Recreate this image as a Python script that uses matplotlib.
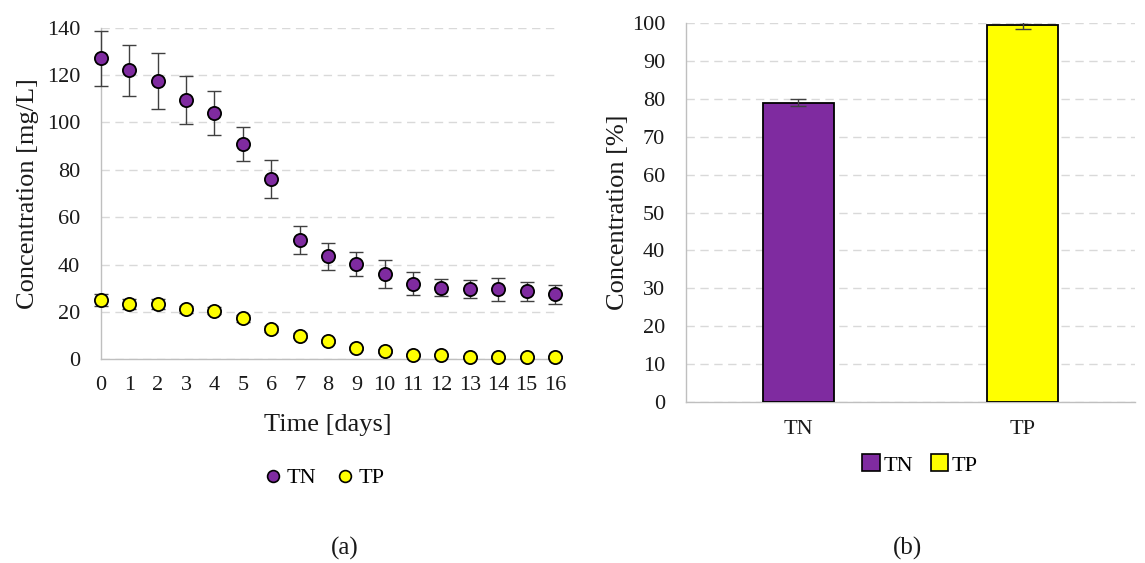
import numpy as np
import matplotlib
matplotlib.use("Agg")
import matplotlib.pyplot as plt
from matplotlib.lines import Line2D
from matplotlib.patches import Patch

plt.rcParams['font.family'] = ['Liberation Serif', 'DejaVu Serif']

# Time series (a)
days = list(range(17))
tn_mean = [127, 122, 117.5, 109.5, 104, 91, 76, 50.4, 43.6, 40.2, 36, 32, 30.2, 29.5, 29.5, 28.8, 27.4]
tn_err = [11.7, 10.9, 11.8, 10.2, 9.3, 7.1, 8.0, 6.0, 5.7, 5.0, 6.0, 5.0, 3.6, 3.8, 4.7, 4.0, 4.0]
tp_mean = [25, 23.3, 23.3, 21.2, 20.5, 17.3, 12.7, 10, 7.7, 4.6, 3.6, 1.8, 1.8, 1.1, 1.1, 1.1, 1.1]
tp_err = [2.5, 2.0, 2.0, 1.5, 1.5, 1.5, 1.2, 1.0, 1.0, 0.8, 0.8, 0.5, 0.5, 0.4, 0.4, 0.4, 0.4]

# Removal efficiency (b)
species = ['TN', 'TP']
removal = [78.9, 99.3]
removal_err = [0.9, 0.9]

purple = '#7F2BA0'
yellow = '#FFFF00'
grid_c = '#D9D9D9'
axis_c = '#BFBFBF'
err_c = '#404040'
txt_c = '#1A1A1A'

fig = plt.figure(figsize=(11.45, 5.63), dpi=100)

# ---- panel (a) ----
ax1 = fig.add_axes([0.0882, 0.3618, 0.3965, 0.589])
for mean, err, col, lab in [(tn_mean, tn_err, purple, 'TN'), (tp_mean, tp_err, yellow, 'TP')]:
    ax1.errorbar(days, mean, yerr=err, fmt='none', ecolor=err_c, elinewidth=1.0,
                 capsize=5, capthick=1.0, zorder=3, clip_on=False)
    ax1.plot(days, mean, 'o', color=col, markeredgecolor='black', markeredgewidth=1.3,
             markersize=9.5, zorder=4, clip_on=False, label=lab)

ax1.set_xlim(0, 16)
ax1.set_ylim(0, 140)
ax1.set_xticks(days)
ax1.set_yticks(range(0, 141, 20))
ax1.yaxis.grid(True, color=grid_c, linestyle=(0, (6, 4)), linewidth=1.0)
ax1.set_axisbelow(True)
ax1.tick_params(length=0, labelsize=16, colors=txt_c)
ax1.tick_params(axis='y', pad=15)
ax1.tick_params(axis='x', pad=12)
for s in ['top', 'right']:
    ax1.spines[s].set_visible(False)
for s in ['left', 'bottom']:
    ax1.spines[s].set_color(axis_c)
    ax1.spines[s].set_linewidth(1.0)
ax1.set_ylabel('Concentration [mg/L]', fontsize=19, color=txt_c)
ax1.yaxis.set_label_coords(-0.161, 0.5)
ax1.yaxis.label.set_va('center')
ax1.set_xlabel('Time [days]', fontsize=19, color=txt_c)
ax1.xaxis.set_label_coords(0.5, -0.198)
ax1.xaxis.label.set_va('center')

h1 = [Line2D([], [], marker='o', linestyle='none', markerfacecolor=c, markeredgecolor='black',
             markeredgewidth=1.2, markersize=8.5) for c in (purple, yellow)]
ax1.legend(h1, ['TN', 'TP'], loc='center', bbox_to_anchor=(0.489, -0.358), ncol=2, frameon=False,
           fontsize=16, handletextpad=0.1, columnspacing=0.8, handlelength=1.0)

# ---- panel (b) ----
ax2 = fig.add_axes([0.5991, 0.2854, 0.3922, 0.6743])
xpos = np.arange(len(species))
ax2.bar(xpos, removal, width=0.316, color=[purple, yellow], edgecolor='black', linewidth=1.3, zorder=3)
ax2.errorbar(xpos, removal, yerr=removal_err, fmt='none', ecolor=err_c, elinewidth=1.0,
             capsize=6, capthick=1.0, zorder=4)
ax2.set_xlim(-0.5, 1.5)
ax2.set_ylim(0, 100)
ax2.set_xticks(xpos)
ax2.set_xticklabels(species)
ax2.set_yticks(range(0, 101, 10))
ax2.yaxis.grid(True, color=grid_c, linestyle=(0, (6, 4)), linewidth=1.0)
ax2.set_axisbelow(True)
ax2.tick_params(length=0, labelsize=16, colors=txt_c)
ax2.tick_params(axis='y', pad=15)
ax2.tick_params(axis='x', pad=13)
for s in ['top', 'right']:
    ax2.spines[s].set_visible(False)
for s in ['left', 'bottom']:
    ax2.spines[s].set_color(axis_c)
    ax2.spines[s].set_linewidth(1.0)
ax2.set_ylabel('Concentration [%]', fontsize=19, color=txt_c)
ax2.yaxis.set_label_coords(-0.151, 0.5)
ax2.yaxis.label.set_va('center')

h2 = [Patch(facecolor=c, edgecolor='black', linewidth=1.2) for c in (purple, yellow)]
ax2.legend(h2, species, loc='center', bbox_to_anchor=(0.521, -0.165), ncol=2, frameon=False,
           fontsize=16, handletextpad=0.15, columnspacing=0.8, handlelength=0.8, handleheight=0.8)

fig.text(0.3013, 0.0266, '(a)', fontsize=18, ha='center', va='center', color=txt_c)
fig.text(0.7930, 0.0266, '(b)', fontsize=18, ha='center', va='center', color=txt_c)

fig.savefig('out.png', dpi=100)
